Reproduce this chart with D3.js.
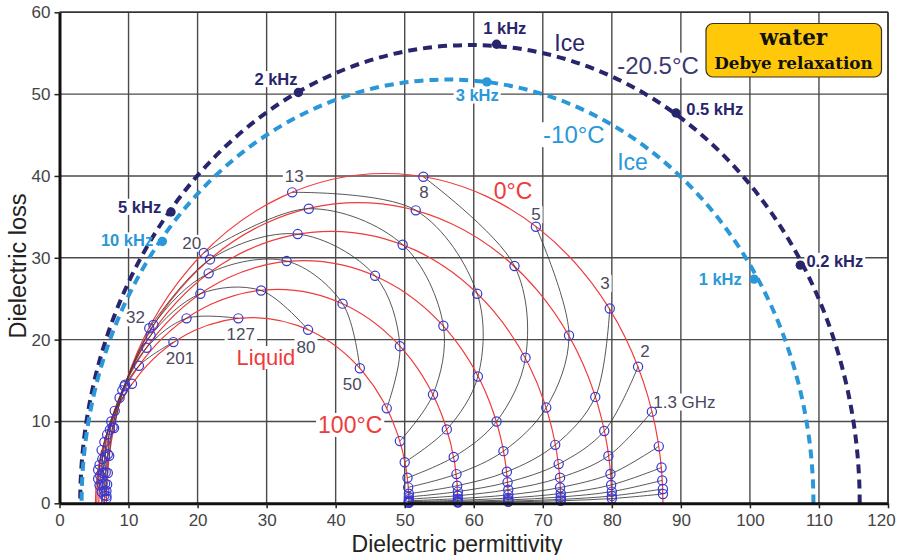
<!DOCTYPE html>
<html><head><meta charset="utf-8">
<script src="https://cdn.jsdelivr.net/npm/d3@7/dist/d3.min.js"></script>
<style>body{margin:0;background:#fff}svg{display:block}</style>
</head><body>
<svg id="chart" width="901" height="555"></svg>
<script>
// ---------- DATA ----------
const xTicks = [0,10,20,30,40,50,60,70,80,90,100,110,120];
const yTicks = [0,10,20,30,40,50,60];

// liquid water: one Debye arc per temperature
const liquidTemps  = ["0°C","20°C","40°C","60°C","80°C","100°C"];
const liquidEpsS   = [87.4, 80.0, 72.6, 65.0, 57.7, 50.6];
const liquidEpsInf = [6.8, 6.5, 6.1, 5.7, 5.4, 5.2];

// measurement frequencies (GHz) shared by every temperature
const freqsGHz = [0.13,0.2,0.32,0.5,0.8,1.3,2,3,5,8,13,20,32,50,80,127,201,320,500,800,1270];

// permittivity / loss read for each temperature, in freqsGHz order
const perm0   = [87.4,87.4,87.3,87.2,86.8,85.8,83.8,79.7,69.0,52.7,33.7,20.9,13.0,9.4,7.9,7.2,7.0,6.9,6.8,6.8,6.8];
const loss0   = [1.14,1.75,2.80,4.37,6.96,11.2,16.7,23.8,33.8,39.9,38.0,30.6,21.4,14.3,9.2,5.8,3.7,2.3,1.5,0.9,0.6];
const perm20  = [80.0,80.0,80.0,79.9,79.8,79.5,78.9,77.6,73.8,65.9,51.6,36.1,21.8,13.6,9.5,7.7,7.0,6.7,6.6,6.5,6.5];
const loss20  = [0.58,0.90,1.43,2.24,3.58,5.79,8.83,13.0,20.5,29.0,35.8,36.0,29.8,21.8,14.5,9.3,6.0,3.8,2.4,1.5,0.95];
const perm40  = [72.6,72.6,72.6,72.6,72.5,72.5,72.3,71.8,70.5,67.5,60.5,49.7,34.5,21.6,13.2,9.1,7.3,6.6,6.3,6.2,6.1];
const loss40  = [0.31,0.48,0.77,1.20,1.93,3.13,4.79,7.14,11.7,17.8,25.6,31.6,32.9,28.1,20.5,13.8,9.0,5.7,3.7,2.3,1.4];
const perm60  = [65.0,65.0,65.0,65.0,65.0,65.0,64.9,64.8,64.3,63.3,60.6,55.6,45.7,32.9,20.4,12.6,8.7,6.9,6.2,5.9,5.8];
const loss60  = [0.17,0.26,0.41,0.64,1.03,1.67,2.57,3.85,6.37,10.0,15.5,21.7,27.8,29.6,25.6,19.0,12.9,8.4,5.4,3.4,2.2];
const perm80  = [57.7,57.7,57.7,57.7,57.7,57.7,57.7,57.6,57.5,57.1,56.1,54.1,49.3,41.0,29.2,18.4,11.5,8.0,6.5,5.8,5.6];
const loss80  = [0.09,0.14,0.23,0.36,0.57,0.93,1.43,2.15,3.57,5.66,9.03,13.3,19.2,24.4,26.0,22.6,16.8,11.3,7.5,4.7,3.0];
const perm100 = [50.6,50.6,50.6,50.6,50.6,50.6,50.6,50.6,50.5,50.4,50.0,49.3,47.4,43.5,36.0,25.9,16.5,10.5,7.5,6.1,5.6];
const loss100 = [0.05,0.08,0.13,0.20,0.31,0.51,0.78,1.17,1.95,3.12,5.02,7.60,11.6,16.5,21.2,22.6,19.7,14.6,10.0,6.5,4.1];

// ice arcs
const iceTemps  = ["-20.5°C","-10°C"];
const iceEpsS   = [115.9, 109.2];
const iceEpsInf = [3.0, 3.2];
const icePeak   = [56.0, 51.8];
// ice marked points
const iceColdLabels = ["0.2 kHz","0.5 kHz","1 kHz","2 kHz","5 kHz"];
const iceColdPerm   = [107.3, 89.3, 63.3, 34.6, 16.15];
const iceColdLoss   = [29.1, 47.7, 56.1, 50.2, 35.6];
const iceWarmLabels = ["1 kHz","3 kHz","10 kHz"];
const iceWarmPerm   = [100.6, 61.9, 14.9];
const iceWarmLoss   = [27.4, 51.5, 32.0];

// frequency annotations (GHz)
const freqLabelText = ["13","8","5","3","2","1.3 GHz","20","32","201","127","80","50"];

// ---------- LAYOUT / STYLE ----------
const W = 901, H = 555;
const navy = "#28256c", sky = "#2a98d8", red = "#ee3b3b";
const SANS = "Liberation Sans, Arial, sans-serif";
const svg = d3.select("#chart");
svg.append("rect").attr("width",W).attr("height",H).attr("fill","#fff");

const x = d3.scaleLinear().domain([0,120]).range([59.5,888]);
const y = d3.scaleLinear().domain([0,60]).range([503.3,12.3]);

const gGrid = svg.append("g");
const gBg = svg.append("g");
const gIce = svg.append("g");
const gLiq = svg.append("g");
const gAxes = svg.append("g");
const gText = svg.append("g");

// grid
gGrid.selectAll("line.v").data(xTicks.filter(d=>d>0)).join("line")
  .attr("x1",d=>x(d)).attr("x2",d=>x(d)).attr("y1",y(0)).attr("y2",y(60))
  .attr("stroke","#4a4a4a").attr("stroke-width",1.4);
gGrid.selectAll("line.h").data(yTicks.filter(d=>d>0)).join("line")
  .attr("x1",x(0)).attr("x2",x(120)).attr("y1",d=>y(d)).attr("y2",d=>y(d))
  .attr("stroke","#4a4a4a").attr("stroke-width",1.4);

// half-ellipse arc in data space
function arcPath(epsS, epsInf, peak){
  const rx = (x(epsS)-x(epsInf))/2, ry = y(0)-y(peak);
  return `M${x(epsS)},${y(0)} A${rx},${ry} 0 0 0 ${x(epsInf)},${y(0)}`;
}

// ice arcs
[navy, sky].forEach((col,i)=>{
  gIce.append("path").attr("d",arcPath(iceEpsS[i],iceEpsInf[i],icePeak[i]))
    .attr("fill","none").attr("stroke",col).attr("stroke-width",4)
    .attr("stroke-dasharray","9,6");
});

// liquid red arcs
liquidEpsS.forEach((s,i)=>{
  gLiq.append("path").attr("d",arcPath(s,liquidEpsInf[i],(s-liquidEpsInf[i])/2))
    .attr("fill","none").attr("stroke",red).attr("stroke-width",1.2);
});

const perms = [perm0,perm20,perm40,perm60,perm80,perm100];
const losses = [loss0,loss20,loss40,loss60,loss80,loss100];

// iso-frequency curves
const line = d3.line().x(d=>x(d[0])).y(d=>y(d[1])).curve(d3.curveCatmullRom.alpha(0.5));
freqsGHz.forEach((f,j)=>{
  const pts = perms.map((p,t)=>[p[j], losses[t][j]]);
  gLiq.append("path").attr("d",line(pts)).attr("fill","none")
    .attr("stroke","#3a3a3a").attr("stroke-width",1).attr("stroke-opacity",0.85);
});
// markers
perms.forEach((p,t)=>{
  gLiq.selectAll(null).data(p.map((v,j)=>[v,losses[t][j]])).join("circle")
    .attr("cx",d=>x(d[0])).attr("cy",d=>y(d[1])).attr("r",4.6)
    .attr("fill","none").attr("stroke","#3838d0").attr("stroke-width",1.2);
});

// ice points
function icePts(perm, loss, col){
  gIce.selectAll(null).data(perm.map((v,i)=>[v,loss[i]])).join("circle")
    .attr("cx",d=>x(d[0])).attr("cy",d=>y(d[1])).attr("r",4.7).attr("fill",col);
}
icePts(iceColdPerm, iceColdLoss, navy);
icePts(iceWarmPerm, iceWarmLoss, sky);

// axes
const ax = d3.axisBottom(x).tickValues(xTicks).tickSize(5).tickSizeOuter(0).tickPadding(6);
const ay = d3.axisLeft(y).tickValues(yTicks).tickSize(5).tickSizeOuter(0).tickPadding(4);
const gx = gAxes.append("g").attr("transform",`translate(0,${y(0)})`).call(ax);
const gy = gAxes.append("g").attr("transform",`translate(${x(0)},0)`).call(ay);
[gx,gy].forEach(g=>{
  g.select(".domain").attr("stroke","#111").attr("stroke-width",3);
  g.selectAll(".tick line").attr("stroke","#222").attr("stroke-width",1.5);
  g.selectAll(".tick text").attr("font-family",SANS)
    .attr("font-size",17).attr("fill","#444");
});
gx.selectAll(".tick text").filter(d=>d===120).attr("dx",-7);
// top & right border
gAxes.append("line").attr("x1",x(0)).attr("x2",x(120)).attr("y1",y(60)).attr("y2",y(60))
  .attr("stroke","#333").attr("stroke-width",1.6);
gAxes.append("line").attr("x1",x(120)).attr("x2",x(120)).attr("y1",y(0)).attr("y2",y(60))
  .attr("stroke","#333").attr("stroke-width",1.6);

// axis titles
gAxes.append("text").attr("transform","translate(26,266) rotate(-90)")
  .attr("text-anchor","middle").attr("font-family",SANS)
  .attr("font-size",23.5).attr("fill","#222").text("Dielectric loss");
gAxes.append("text").attr("x",457).attr("y",551.5)
  .attr("text-anchor","middle").attr("font-family",SANS)
  .attr("font-size",23).attr("fill","#222").text("Dielectric permittivity");

// ---------- annotations ----------
const fc = "#4a4a5e";
const annotations = [
  // frequency labels on liquid points (data coords of label anchor)
  {t:freqLabelText[0], x:34.0, y:39.3, a:"middle", s:17, c:fc},
  {t:freqLabelText[1], x:52.8, y:37.3, a:"middle", s:17, c:fc},
  {t:freqLabelText[2], x:69.0, y:34.6, a:"middle", s:17, c:fc},
  {t:freqLabelText[3], x:79.0, y:26.2, a:"middle", s:17, c:fc},
  {t:freqLabelText[4], x:84.8, y:17.9, a:"middle", s:17, c:fc},
  {t:freqLabelText[5], x:86.0, y:11.7, a:"start",  s:17, c:fc},
  {t:freqLabelText[6], x:19.15,y:31.1, a:"middle", s:17, c:fc},
  {t:freqLabelText[7], x:11.0, y:22.0, a:"middle", s:17, c:fc},
  {t:freqLabelText[8], x:17.45,y:17.0, a:"middle", s:17, c:fc},
  {t:freqLabelText[9], x:26.26,y:20.0, a:"middle", s:17, c:fc},
  {t:freqLabelText[10],x:35.7, y:18.4, a:"middle", s:17, c:fc},
  {t:freqLabelText[11],x:42.4, y:13.8, a:"middle", s:17, c:fc},
  // liquid labels
  {t:liquidTemps[0], x:65.7, y:37.2, a:"middle", s:23, c:red},
  {t:liquidTemps[5], x:42.1, y:8.6,  a:"middle", s:23, c:red},
  {t:"Liquid",       x:29.9, y:16.9, a:"middle", s:22, c:red},
  // ice labels
  {t:"Ice",          x:73.9, y:55.3, a:"middle", s:23, c:navy},
  {t:iceTemps[0],    x:86.7, y:52.5, a:"middle", s:24, c:"#3c3a72"},
  {t:iceTemps[1],    x:74.5, y:44.0, a:"middle", s:24, c:sky},
  {t:"Ice",          x:83.0, y:40.7, a:"middle", s:23, c:sky},
  // ice frequency labels
  {t:iceColdLabels[2], x:64.5, y:57.4, a:"middle", s:16.5, c:navy, b:1},
  {t:iceColdLabels[3], x:31.35,y:51.1, a:"middle", s:16.5, c:navy, b:1},
  {t:iceColdLabels[4], x:11.6, y:35.5, a:"middle", s:16.5, c:navy, b:1},
  {t:iceColdLabels[1], x:94.9, y:47.5, a:"middle", s:16.5, c:navy, b:1},
  {t:iceColdLabels[0], x:112.3,y:28.9, a:"middle", s:16.5, c:navy, b:1},
  {t:iceWarmLabels[2], x:9.78, y:31.4, a:"middle", s:16.5, c:sky, b:1},
  {t:iceWarmLabels[1], x:60.5, y:49.1, a:"middle", s:16.5, c:sky, b:1},
  {t:iceWarmLabels[0], x:95.7, y:26.7, a:"middle", s:16.5, c:sky, b:1}
];
annotations.forEach(d=>{
  const tx = gText.append("text").attr("x",x(d.x)).attr("y",y(d.y))
    .attr("text-anchor",d.a).attr("font-family",SANS).attr("font-size",d.s)
    .attr("font-weight",d.b?"bold":"normal").attr("fill",d.c).text(d.t);
  const bb = tx.node().getBBox();
  gBg.append("rect").attr("x",bb.x-2).attr("y",bb.y+1).attr("width",bb.width+4)
    .attr("height",bb.height-2).attr("fill","#fff");
});

// title box
const box = gText.append("g");
box.append("rect").attr("x",706).attr("y",23.5).attr("width",175.5).attr("height",53.5)
  .attr("rx",7).attr("fill","#ffc90a").attr("stroke","#3a3020").attr("stroke-width",1.2);
box.append("text").attr("x",793.5).attr("y",45).attr("text-anchor","middle")
  .attr("font-family","DejaVu Serif, serif").attr("font-weight","bold").attr("font-size",21.5)
  .attr("fill","#111").text("water");
box.append("text").attr("x",793.5).attr("y",68.5).attr("text-anchor","middle")
  .attr("font-family","DejaVu Serif, serif").attr("font-weight","bold").attr("font-size",16.8)
  .attr("fill","#111").text("Debye relaxation");
</script>
</body></html>
